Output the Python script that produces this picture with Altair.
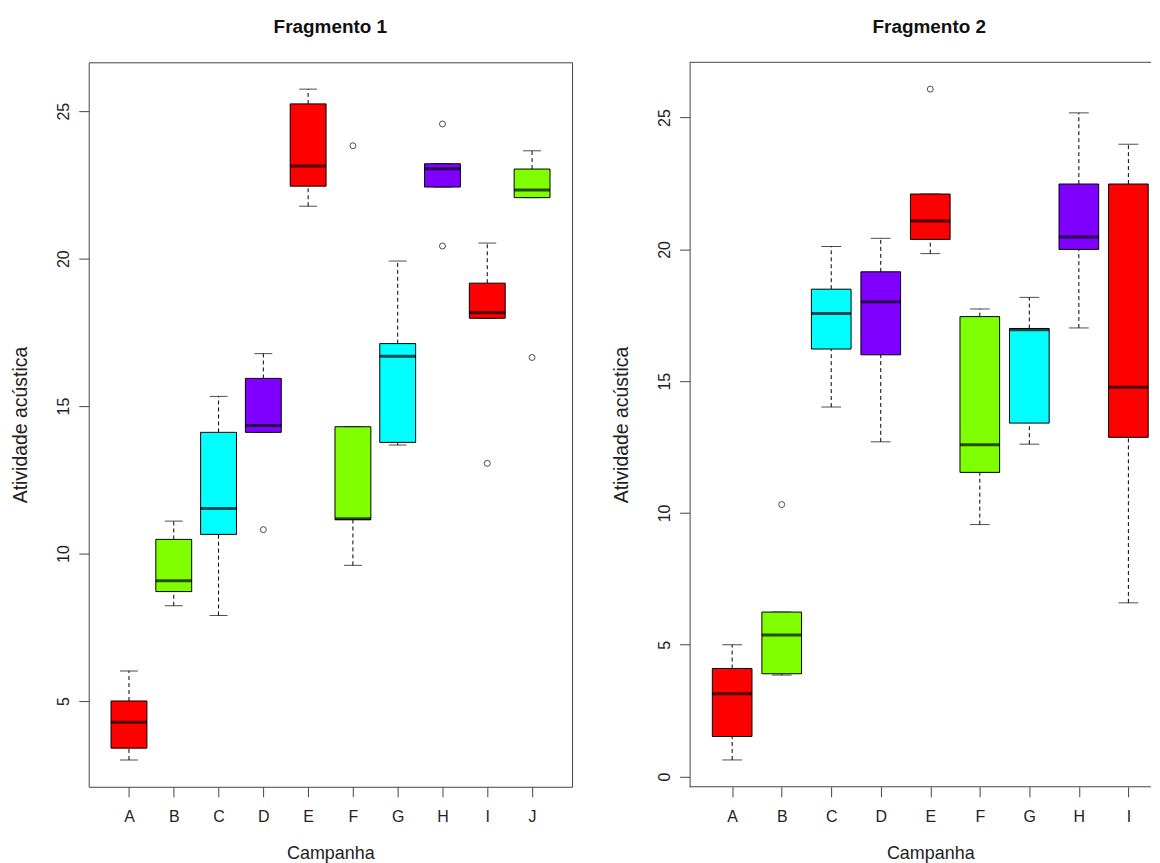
import altair as alt
import pandas as pd

FONT = "Liberation Sans"
COLORS = ["#FF0000", "#80FF00", "#00FFFF", "#8000FF"]

# ---- Fragmento 1 (whisker low, Q1, median, Q3, whisker high) ----
f1_cats = ["A", "B", "C", "D", "E", "F", "G", "H", "I", "J"]
f1_lo = [3.00, 8.23, 7.90, 14.11, 21.78, 9.60, 13.68, 22.43, 17.98, 22.07]
f1_q1 = [3.40, 8.71, 10.65, 14.11, 22.46, 11.15, 13.77, 22.43, 17.98, 22.07]
f1_med = [4.28, 9.08, 11.53, 14.34, 23.14, 11.18, 16.69, 23.05, 18.17, 22.33]
f1_q3 = [5.00, 10.48, 14.11, 15.94, 25.25, 14.30, 17.12, 23.22, 19.17, 23.04]
f1_hi = [6.02, 11.10, 15.33, 16.78, 25.75, 14.30, 19.92, 23.22, 20.53, 23.66]
f1_out_cat = ["D", "F", "H", "H", "I", "J"]
f1_out_val = [10.81, 23.83, 24.57, 20.43, 13.06, 16.65]

# ---- Fragmento 2 ----
f2_cats = ["A", "B", "C", "D", "E", "F", "G", "H", "I"]
f2_lo = [0.63, 3.85, 14.02, 12.70, 19.84, 9.56, 12.61, 17.02, 6.59]
f2_q1 = [1.52, 3.90, 16.22, 16.00, 20.38, 11.54, 13.41, 20.00, 12.87]
f2_med = [3.14, 5.37, 17.57, 18.01, 21.08, 12.59, 16.95, 20.47, 14.77]
f2_q3 = [4.10, 6.24, 18.49, 19.15, 22.10, 17.45, 17.00, 22.48, 22.48]
f2_hi = [5.00, 6.24, 20.11, 20.42, 22.10, 17.74, 18.18, 25.18, 23.99]
f2_out_cat = ["B", "E"]
f2_out_val = [10.32, 26.08]

HEIGHT = 727
TXT = "#222222"
FRAME = "#444444"


def panel(title, cats, lo, q1, med, q3, hi, out_cat, out_val,
          width, x_range, yticks, box_w, open_right, title_dx, xtitle_x):
    df = pd.DataFrame({
        "cat": cats, "lo": lo, "q1": q1, "med": med, "q3": q3, "hi": hi,
        "fill": [COLORS[i % 4] for i in range(len(cats))],
    })
    out = pd.DataFrame({"cat": out_cat, "val": out_val})
    allv = lo + hi + out_val
    vmin, vmax = min(allv), max(allv)
    r = vmax - vmin
    ydom = [vmin - 0.04 * r, vmax + 0.04 * r]

    xaxis = alt.Axis(
        title="Campanha", labelAngle=0, tickSize=10, tickColor=FRAME,
        labelPadding=12, labelFontSize=16, labelFont=FONT, labelColor=TXT,
        titleFont=FONT, titleFontSize=18, titleFontWeight="normal",
        titleColor=TXT, titleX=xtitle_x, titleY=58, titleBaseline="top",
        titleAlign="center", domain=False, grid=False,
    )
    yaxis = alt.Axis(
        title="Atividade acústica", values=yticks, grid=False, tickSize=10,
        tickColor=FRAME, labelAngle=270, labelAlign="center",
        labelBaseline="alphabetic", labelPadding=10, labelFontSize=16,
        labelFont=FONT, labelColor=TXT, labelOverlap=False,
        titleFont=FONT, titleFontSize=19.5, titleFontWeight="normal",
        titleColor=TXT, titleX=-68, titleY=HEIGHT / 2, titleAngle=270,
        titleBaseline="middle", titleAlign="center",
        domain=open_right, domainColor=FRAME, domainWidth=1,
    )
    xenc = alt.X("cat:N", sort=cats,
                 scale=alt.Scale(type="point", domain=cats, range=x_range,
                                 padding=0),
                 axis=xaxis)
    yscale = alt.Scale(domain=ydom, nice=False, zero=False)

    def Y(field):
        return alt.Y(f"{field}:Q", scale=yscale, axis=yaxis)

    base = alt.Chart(df)
    upper = base.mark_rule(color="#000", strokeWidth=1, strokeDash=[4, 3]).encode(
        x=xenc, y=Y("q3"), y2="hi")
    lower = base.mark_rule(color="#000", strokeWidth=1, strokeDash=[4, 3]).encode(
        x=xenc, y=Y("lo"), y2="q1")
    cap_hi = base.mark_tick(color="#000", size=box_w / 2, thickness=1).encode(
        x=xenc, y=Y("hi"))
    cap_lo = base.mark_tick(color="#000", size=box_w / 2, thickness=1).encode(
        x=xenc, y=Y("lo"))
    box = base.mark_bar(size=box_w, stroke="#000", strokeWidth=1).encode(
        x=xenc, y=Y("q1"), y2="q3",
        color=alt.Color("fill:N", scale=None, legend=None))
    median = base.mark_tick(color="#000", size=box_w, thickness=3).encode(
        x=xenc, y=Y("med"))
    outl = alt.Chart(out).mark_point(shape="circle", filled=False, size=36,
                                     color="#000", strokeWidth=1).encode(
        x=xenc, y=Y("val"))

    layers = [upper, lower, cap_hi, cap_lo, box, median, outl]
    if open_right:
        frame = pd.DataFrame({"edge": [ydom[0], ydom[1]]})
        frame_rule = alt.Chart(frame).mark_rule(color=FRAME, strokeWidth=1).encode(
            y=alt.Y("edge:Q", scale=yscale, axis=yaxis))
        layers = [frame_rule] + layers
        view = alt.ViewBackground(stroke="transparent")
    else:
        view = alt.ViewBackground(stroke=FRAME, strokeWidth=1)

    return alt.layer(*layers).properties(
        width=width, height=HEIGHT, view=view,
        title=alt.TitleParams(title, font=FONT, fontSize=19, fontWeight="bold",
                              color="#111111", offset=25, anchor="middle",
                              dx=title_dx),
    )


p1 = panel("Fragmento 1", f1_cats, f1_lo, f1_q1, f1_med, f1_q3, f1_hi,
           f1_out_cat, f1_out_val, width=485, x_range=[40.4, 444.9],
           yticks=[5, 10, 15, 20, 25], box_w=36, open_right=False,
           title_dx=0, xtitle_x=242.5)
p2 = panel("Fragmento 2", f2_cats, f2_lo, f2_q1, f2_med, f2_q3, f2_hi,
           f2_out_cat, f2_out_val, width=463, x_range=[42.7, 440.3],
           yticks=[0, 5, 10, 15, 20, 25], box_w=39.8, open_right=True,
           title_dx=9, xtitle_x=241.5)

chart = alt.hconcat(p1, p2, spacing=38).properties(
    padding={"left": 2, "top": 8, "right": 0, "bottom": 0},
    background="white",
)

chart.save("out.html", embed_options={"renderer": "svg", "actions": False})
